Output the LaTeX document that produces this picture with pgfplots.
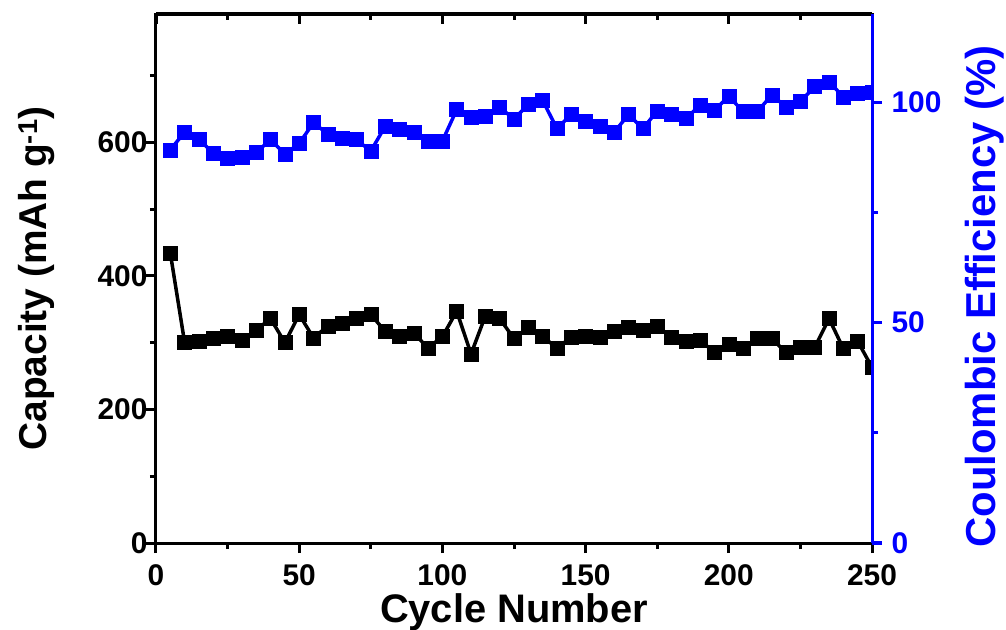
\documentclass[border=0pt]{standalone}
\usepackage{pgfplots}
\pgfplotsset{compat=1.18}
\usepackage{pgfplotstable}
\usepackage{fontspec}
\setmainfont{Liberation Sans}
\definecolor{myblue}{RGB}{0,0,255}

\pgfplotstableread{
x y
5 434
10 300
15 302
20 306
25 310
30 303
35 319
40 336
45 300
50 342
55 307
60 325
65 329
70 337
75 342
80 317
85 310
90 314
95 292
100 309
105 347
110 283
115 340
120 336
125 306
130 323
135 309
140 292
145 308
150 310
155 308
160 317
165 323
170 319
175 325
180 308
185 302
190 304
195 285
200 298
205 292
210 306
215 306
220 285
225 293
230 293
235 336
240 291
245 302
250 263
}\capdata

\pgfplotstableread{
x y
5 89.2
10 93.2
15 91.5
20 88.5
25 87.3
30 87.5
35 88.6
40 91.5
45 88.2
50 90.6
55 95.4
60 92.7
65 91.9
70 91.5
75 88.9
80 94.5
85 93.8
90 93.2
95 91.2
100 91.2
105 98.3
110 96.6
115 96.9
120 98.8
125 96.2
130 99.5
135 100.4
140 94.0
145 97.2
150 95.7
155 94.6
160 93.2
165 97.2
170 94.0
175 98.0
180 97.2
185 96.3
190 99.3
195 98.2
200 101.3
205 97.9
210 97.9
215 101.6
220 98.9
225 100.2
230 103.5
235 104.6
240 101.2
245 102.1
250 102.2
}\cedata

\pgfplotsset{
  common/.style={
    scale only axis, width=716bp, height=529bp,
    at={(0,0)}, anchor=south west,
    xmin=0, xmax=250,
    xtick={0,50,...,250}, minor xtick={25,75,...,225},
    major tick length=10bp, minor tick length=6bp,
    every tick/.style={line width=3bp},
    major tick style={line width=3bp},
    minor tick style={line width=3bp},
    ticklabel style={font=\fontsize{30}{30}\selectfont\bfseries},
    /pgf/number format/assume math mode=true,
    clip marker paths=true,
  },
}

\begin{document}
\begin{tikzpicture}
\useasboundingbox (-156bp,-87bp) rectangle (850bp,543bp);

% top inward ticks
\begin{axis}[common, ymin=0, ymax=1,
  axis x line*=top, axis y line=none,
  x axis line style={-, line width=3bp, black},
  xtick pos=top, xticklabel pos=top, xticklabels={},
  tick align=inside, tick style={black}]
\end{axis}

\begin{axis}[common, ymin=0, ymax=792,
  axis line style={line width=3bp},
  ytick={0,200,400,600}, minor ytick={100,300,500,700},
  xtick pos=bottom, ytick pos=left, tick align=outside,
  tick style={black},
  xticklabel style={yshift=-8bp},
  yticklabel style={xshift=5bp},
  xlabel={Cycle Number},
  xlabel style={font=\fontsize{40}{40}\selectfont\bfseries, at={(axis description cs:0.5,0)}, anchor=base, yshift=-79bp},
  ylabel={Capacity (mAh g\textsuperscript{-1})},
  ylabel style={font=\fontsize{39}{39}\selectfont\bfseries, at={(axis description cs:0,0.5)}, anchor=center, yshift=119bp},
]
\addplot[black, line width=3.5bp, mark=square*, mark size=7bp, mark options={line width=0.5bp}] table[x=x,y=y] {\capdata};
\end{axis}

\begin{axis}[common, ymin=0, ymax=120,
  axis y line*=right, axis x line=none,
  y axis line style={-, myblue, line width=3bp},
  ytick={0,50,100}, minor ytick={25,75},
  ytick pos=right, yticklabel pos=right, tick align=outside,
  ytick style={myblue},
  yticklabel style={myblue, xshift=6bp},
  ylabel={Coulombic Efficiency (\%)},
  ylabel style={font=\fontsize{42}{42}\selectfont\bfseries, myblue, at={(axis description cs:1,0.5)}, anchor=center, yshift=-113bp, xshift=-18bp},
]
\addplot[myblue, line width=3.5bp, mark=square*, mark size=7bp, mark options={line width=0.5bp}] table[x=x,y=y] {\cedata};
\end{axis}
\end{tikzpicture}
\end{document}
